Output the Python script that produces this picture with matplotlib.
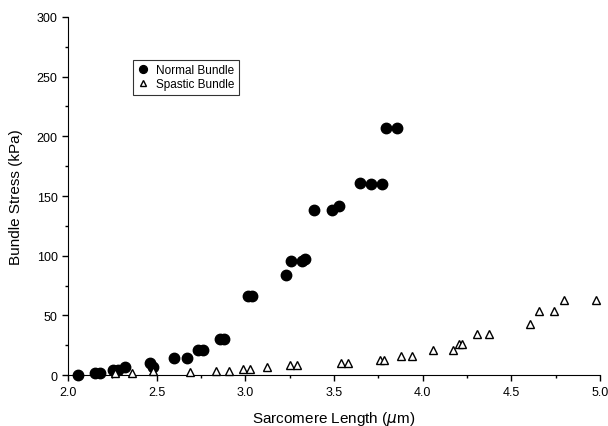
import matplotlib
matplotlib.use("Agg")
import matplotlib.pyplot as plt
from matplotlib.ticker import MultipleLocator

plt.rcParams['font.family'] = ['Liberation Sans', 'DejaVu Sans']

normal_x = [2.056, 2.15, 2.18, 2.255, 2.28, 2.32, 2.46, 2.48, 2.60, 2.67, 2.735, 2.763,
            2.857, 2.88, 3.017, 3.036, 3.23, 3.256, 3.318, 3.337, 3.387, 3.487, 3.527,
            3.647, 3.707, 3.769, 3.794, 3.857]
normal_y = [0, 1.5, 1.5, 4, 4, 7, 10.5, 7, 14, 14, 21, 21,
            30.5, 30.5, 66, 66, 83.5, 95.5, 96, 97.5, 138.5, 138.5, 142,
            161, 160.5, 160.5, 207, 207]

spastic_x = [2.265, 2.36, 2.48, 2.69, 2.835, 2.91, 2.985, 3.026, 3.124, 3.25, 3.29,
             3.54, 3.58, 3.76, 3.78, 3.88, 3.94, 4.056, 4.17, 4.207, 4.222, 4.308,
             4.374, 4.606, 4.658, 4.741, 4.794, 4.978]
spastic_y = [1.5, 2, 3.5, 3, 3.5, 3.5, 5.5, 5.5, 7, 8.5, 8.5,
             10, 10, 13, 13, 16, 16, 21, 21, 26.5, 26.5, 34.5,
             34.5, 43, 54, 54, 63, 63]

fig = plt.figure(figsize=(6.08, 4.27), dpi=100)
ax = fig.add_axes([0.112, 0.119, 0.875, 0.839])

ax.plot(normal_x, normal_y, 'o', color='black', markersize=7.5, label='Normal Bundle',
        clip_on=False, zorder=3)
ax.plot(spastic_x, spastic_y, '^', markerfacecolor='white', markeredgecolor='black',
        markeredgewidth=1.0, markersize=6, label='Spastic Bundle', clip_on=False, zorder=3)

ax.set_xlim(2.0, 5.0)
ax.set_ylim(0, 300)
ax.xaxis.set_major_locator(MultipleLocator(0.5))
ax.xaxis.set_minor_locator(MultipleLocator(0.25))
ax.yaxis.set_major_locator(MultipleLocator(50))
ax.yaxis.set_minor_locator(MultipleLocator(25))
ax.xaxis.set_major_formatter(matplotlib.ticker.FormatStrFormatter('%.1f'))
ax.spines['top'].set_visible(False)
ax.spines['right'].set_visible(False)
ax.tick_params(direction='out', length=4, width=1, labelsize=9)
ax.tick_params(which='minor', direction='out', length=2.5, width=1)

ax.set_xlabel('Sarcomere Length ($\\mu$m)', fontsize=11, labelpad=8)
ax.set_ylabel('Bundle Stress (kPa)', fontsize=11, labelpad=10)

leg = ax.legend(loc='upper left', bbox_to_anchor=(0.122, 0.88), fontsize=8.5,
                frameon=True, fancybox=False, edgecolor='black', borderpad=0.35,
                handletextpad=0.6, handlelength=1.0, labelspacing=0.2, borderaxespad=0,
                markerscale=0.75)
leg.get_frame().set_linewidth(0.8)

fig.savefig('out.png', dpi=100)
